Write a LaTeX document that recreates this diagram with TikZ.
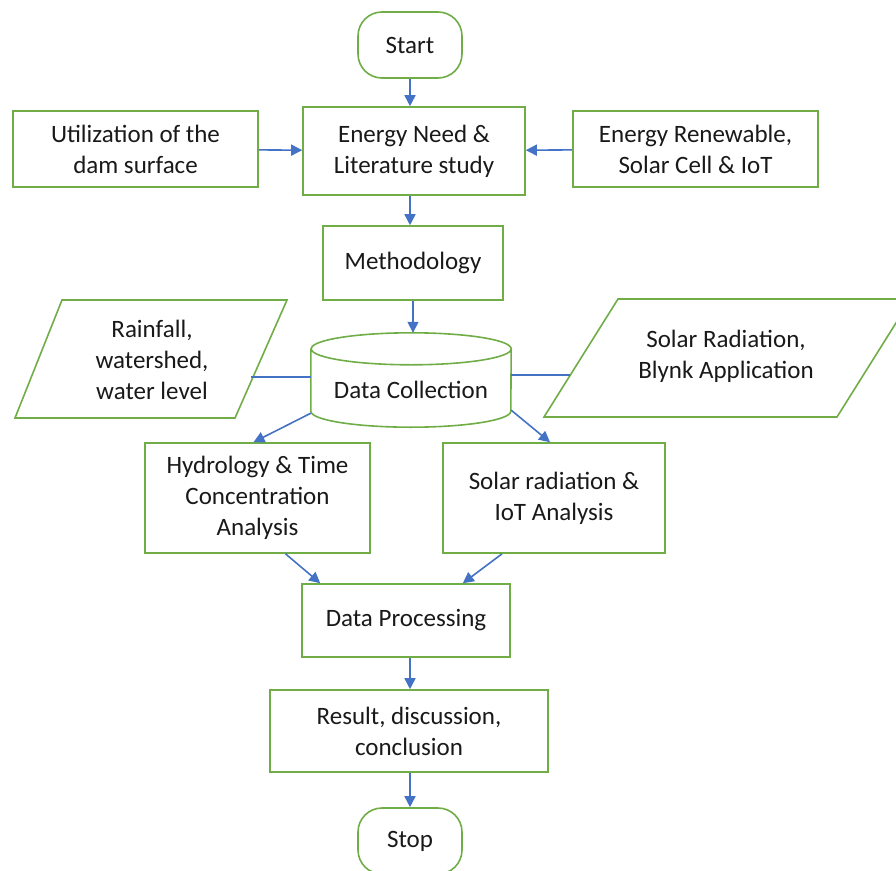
\documentclass[tikz,border=0pt]{standalone}
\usepackage{fontspec}
\setmainfont{Carlito}
\usetikzlibrary{arrows.meta}
\definecolor{boxgreen}{HTML}{70AD47}
\definecolor{linkblue}{HTML}{4472C4}

\begin{document}
\begin{tikzpicture}[x=1pt, y=-1pt,
  every node/.style={font=\fontsize{25}{31}\selectfont, align=center, text=black!90},
  box/.style={draw=boxgreen, line width=1.6pt, rectangle},
  term/.style={box, rounded corners=24pt, minimum width=104pt, minimum height=66pt},
  link/.style={draw=linkblue, line width=1.6pt, -{Triangle[length=11pt,width=11pt]}},
  tie/.style={draw=linkblue, line width=1.6pt}]
  \clip (0,0) rectangle (896,870);

  % Start and first row
  \node[term] (start) at (410,45) {Start};
  \node[box, minimum width=222pt, minimum height=88pt] (need) at (414,151) {Energy Need \&\\Literature study};
  \node[box, minimum width=245pt, minimum height=76pt] (dam) at (135.5,149) {Utilization of the\\dam surface};
  \node[box, minimum width=245pt, minimum height=76pt] (renew) at (695.5,149) {Energy Renewable,\\Solar Cell \& IoT};
  \node[box, minimum width=180pt, minimum height=74pt] (method) at (413,263) {Methodology};

  % Inputs
  \draw[box] (15,418) -- (62,300) -- (287,300) -- (235,418) -- cycle;
  \node (rain) at (152,360) {Rainfall,\\watershed,\\water level};
  \draw[box] (544,417) -- (618,299) -- (911,299) -- (837,417) -- cycle;
  \node (solar) at (726,356) {Solar Radiation,\\Blynk Application};
  \coordinate (rainedge) at (251,377);
  \coordinate (solaredge) at (570,375);

  % Data Collection
  \node[minimum width=200pt, minimum height=94pt, inner sep=0pt] (store) at (411,380) {};
  \draw[box] ([yshift=-16pt]store.north west) -- ([yshift=16pt]store.south west)
    arc[start angle=180, end angle=360, x radius=100pt, y radius=16pt]
    -- ([yshift=-16pt]store.north east)
    arc[start angle=0, end angle=360, x radius=100pt, y radius=16pt];
  \node (storetext) at ([yshift=-10pt]store.center) {Data Collection};

  % Analysis
  \node[box, minimum width=225pt, minimum height=110pt] (hydro) at (257.5,498) {Hydrology \& Time\\Concentration\\Analysis};
  \node[box, minimum width=222pt, minimum height=110pt] (iot) at (554,498) {Solar radiation \&\\IoT Analysis};
  \node[box, minimum width=208pt, minimum height=73pt] (process) at (406,620.5) {Data Processing};
  \node[box, minimum width=278pt, minimum height=82pt] (result) at (409,731) {Result, discussion,\\conclusion};
  \node[term] (stop) at (410,841) {Stop};

  % Connectors
  \draw[link] (start) -- (start |- need.north);
  \draw[link] (dam) -- (need);
  \draw[link] (renew) -- (need);
  \draw[link] (start |- need.south) -- (start |- method.north);
  \draw[link] (method) -- (method |- store.north);
  \draw[tie] (rainedge) -- (rainedge -| store.west);
  \draw[tie] (store.east |- solaredge) -- (solaredge);
  \draw[link] ([yshift=14pt]store.south west) -- ([xshift=-4pt]hydro.north);
  \draw[link] ([yshift=17pt]store.south east) -- ([xshift=-4pt]iot.north);
  \draw[link] ([xshift=28pt]hydro.south) -- ([xshift=19pt]process.north west);
  \draw[link] ([xshift=-52pt]iot.south) -- ([xshift=-48pt]process.north east);
  \draw[link] (start |- process.south) -- (start |- result.north);
  \draw[link] (start |- result.south) -- (stop);
\end{tikzpicture}
\end{document}
